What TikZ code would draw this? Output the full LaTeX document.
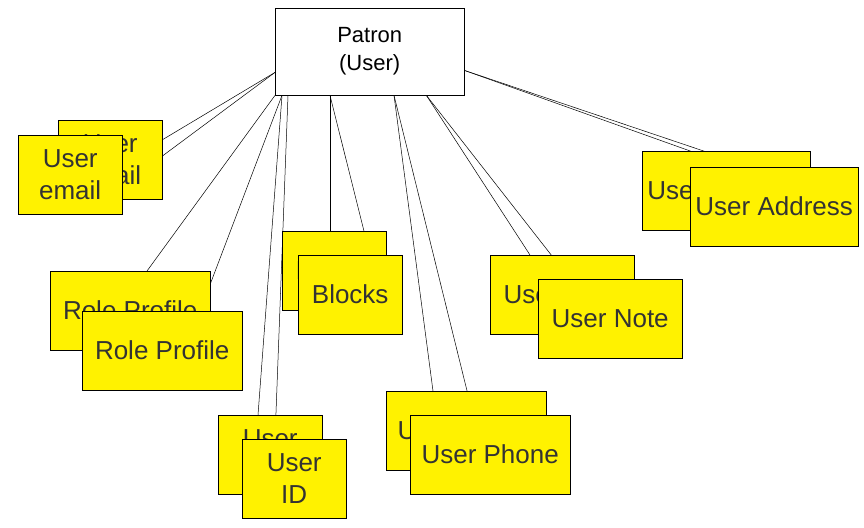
\documentclass[tikz,border=0pt]{standalone}
\usepackage{fontspec}
\setmainfont{Liberation Sans}
\begin{document}
\begin{tikzpicture}[x=1pt,y=-1pt,
  tbl/.style={draw,fill=yellow,anchor=north west,inner sep=0,align=center,text=black!80,font=\fontsize{26}{32}\selectfont},
  lnk/.style={draw,line width=.5pt}]
\useasboundingbox (0,0) rectangle (864,527);
\node [draw,anchor=north west,minimum width=189,minimum height=87,align=center,font=\fontsize{22}{28}\selectfont] (patron) at (275,8) {Patron\\(User)};
% connectors
\draw[lnk] ([yshift=23]patron.south west) -- (162,140);
\draw[lnk] ([yshift=23]patron.south west) -- (122,186);
\draw[lnk] (patron.south west) -- (147,271);
\draw[lnk] ([xshift=7]patron.south west) -- (200,311);
\draw[lnk] ([xshift=7]patron.south west) -- (258,415);
\draw[lnk] ([xshift=13]patron.south west) -- (275,439);
\draw[lnk] ([xshift=55]patron.south west) -- (330,231);
\draw[lnk] ([xshift=55]patron.south west) -- (370,255);
\draw[lnk] ([xshift=119]patron.south west) -- (433,391);
\draw[lnk] ([xshift=119]patron.south west) -- (473,415);
\draw[lnk] ([xshift=-38]patron.south east) -- (530,255);
\draw[lnk] ([xshift=-38]patron.south east) -- (570,279);
\draw[lnk] ([yshift=25]patron.south east) -- (735,167);
\draw[lnk] ([yshift=25]patron.south east) -- (760,170);
% back copies
\node[tbl,minimum width=104,minimum height=79] (emailb) at (58,120) {User\\email};
\node[tbl,minimum width=160,minimum height=79] (roleb) at (50,271) {Role Profile};
\node[tbl,minimum width=104,minimum height=79] (idb) at (218,415) {User\\ID};
\node[tbl,minimum width=104,minimum height=79] (blocksb) at (282,231) {Blocks};
\node[tbl,minimum width=160,minimum height=79] (phoneb) at (386,391) {User Phone};
\node[tbl,minimum width=144,minimum height=79] (noteb) at (490,255) {User Note};
\node[tbl,minimum width=168,minimum height=79] (addrb) at (642,151) {User Address};
% front copies
\node[tbl,minimum width=104,minimum height=79] (email) at (18,135) {User\\email};
\node[tbl,minimum width=160,minimum height=79] (role) at (82,311) {Role Profile};
\node[tbl,minimum width=104,minimum height=79] (id) at (242,439) {User\\ID};
\node[tbl,minimum width=104,minimum height=79] (blocks) at (298,255) {Blocks};
\node[tbl,minimum width=160,minimum height=79] (phone) at (410,415) {User Phone};
\node[tbl,minimum width=144,minimum height=79] (note) at (538,279) {User Note};
\node[tbl,minimum width=168,minimum height=79] (addr) at (690,167) {User Address};
\end{tikzpicture}
\end{document}
